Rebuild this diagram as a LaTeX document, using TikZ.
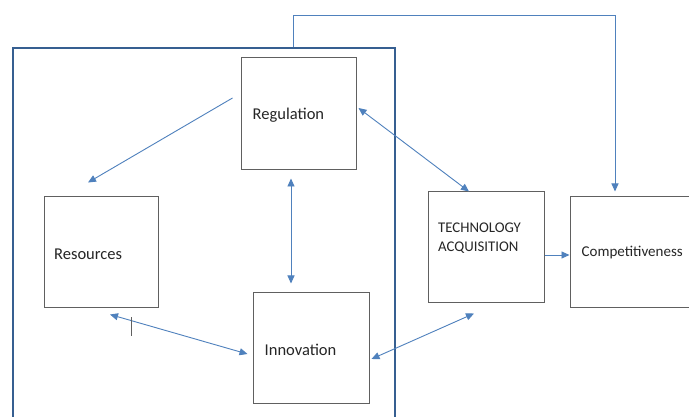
\documentclass[tikz,border=0pt]{standalone}
\usepackage{fontspec}
\setmainfont{Carlito}
\usetikzlibrary{arrows.meta}
\definecolor{linkblue}{RGB}{79,129,189}
\definecolor{frameblue}{RGB}{54,95,145}
\definecolor{boxgray}{RGB}{96,96,96}
\definecolor{inkgray}{RGB}{38,38,38}
\tikzset{
  stage/.style={draw=boxgray, line width=1pt, fill=white, inner sep=0pt},
  caption/.style={anchor=west, inner sep=0pt, text=inkgray, font=\fontsize{16.5}{19}\selectfont, align=left},
  tip/.style={Triangle[length=8pt,width=7pt]},
  link/.style={draw=linkblue, line width=0.9pt, -{Triangle[length=8pt,width=7pt]}},
  twoway/.style={draw=linkblue, line width=0.9pt, {Triangle[length=8pt,width=7pt]}-{Triangle[length=8pt,width=7pt]}},
  sysframe/.style={draw=frameblue, line width=2.5pt, inner sep=0pt}
}
\begin{document}
\begin{tikzpicture}[x=1pt,y=-1pt]
  \clip (0,0) rectangle (689,417);
  \fill[white] (0,0) rectangle (689,417);

  % enclosing system boundary (runs past the lower edge)
  \node[sysframe, minimum width=382pt, minimum height=392pt] (sys) at (204,244) {};

  % stages
  \node[stage, minimum width=115pt, minimum height=112pt] (reg) at (298.5,114) {};
  \node[stage, minimum width=114pt, minimum height=110pt] (res) at (101,252) {};
  \node[stage, minimum width=116pt, minimum height=111pt] (inn) at (311,347.5) {};
  \node[stage, minimum width=116pt, minimum height=110pt] (tech) at (486,247) {};
  \node[stage, minimum width=135pt, minimum height=110pt] (comp) at (637.5,252) {};

  % stage captions
  \node[caption] (regT) at ([shift={(12,1.5)}]reg.west) {Regulation};
  \node[caption] (resT) at ([shift={(10.5,2)}]res.west) {Resources};
  \node[caption] (innT) at ([shift={(12,2.5)}]inn.west) {Innovation};
  \node[caption, font=\fontsize{14.8}{19}\selectfont] (techT) at ([shift={(10.5,-8.5)}]tech.west) {TECHNOLOGY\\ACQUISITION};
  \node[caption, font=\fontsize{15}{18}\selectfont] (compT) at ([shift={(12,1)}]comp.west) {Competitiveness};

  % links between stages
  \draw[link] ([shift={(-8,-16)}]reg.west) -- ([shift={(-13,-14)}]res.north);
  \draw[twoway] ([shift={(-7.5,8)}]reg.south) -- ([shift={(-20,-8)}]inn.north);
  \draw[twoway] ([shift={(2,-6)}]reg.east) -- ([shift={(-17,0)}]tech.north);
  \draw[twoway] ([shift={(9,7)}]res.south) -- ([shift={(-5,6.5)}]inn.west);
  \draw[twoway] ([shift={(2,11.5)}]inn.east) -- ([shift={(-12,11)}]tech.south);
  \draw[link] ([shift={(0,8)}]tech.east) -- ([shift={(0,3)}]comp.west);

  % feedback from the system to competitiveness
  \coordinate (fbStart) at ([xshift=89pt]sys.north);
  \draw[link] (fbStart) -- ++(0,-31) -| ([shift={(-22.5,-5)}]comp.north);

  % small stray tick below Resources
  \draw[boxgray, line width=0.9pt] (131,317) -- (131,336);
\end{tikzpicture}
\end{document}
